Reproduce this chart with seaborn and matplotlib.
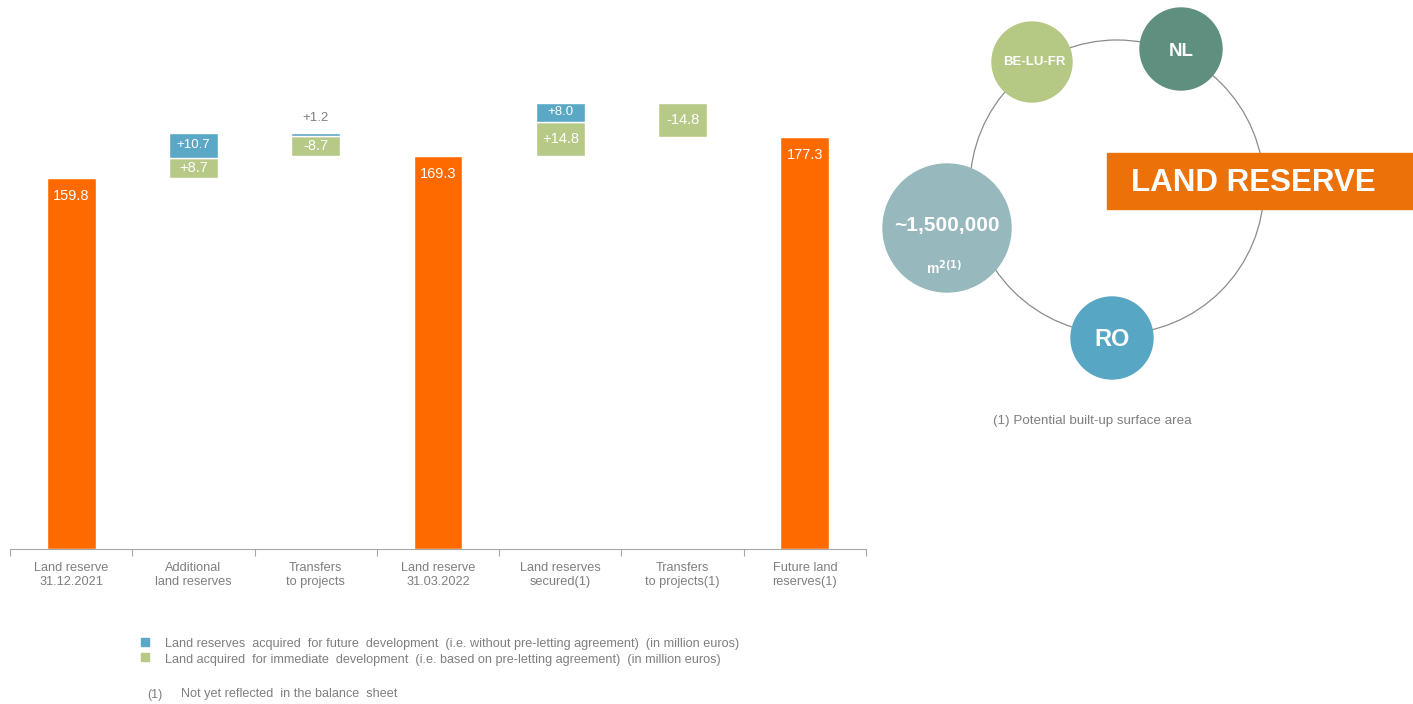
import matplotlib
matplotlib.use("Agg")
import matplotlib.pyplot as plt
from matplotlib.patches import Circle, Rectangle
import seaborn as sns
import pandas as pd

# data
categories = ["Land reserve\n31.12.2021", "Additional\nland reserves", "Transfers\nto projects",
              "Land reserve\n31.03.2022", "Land reserves\nsecured(1)", "Transfers\nto projects(1)",
              "Future land\nreserves(1)"]
totals = [159.8, None, None, 169.3, None, None, 177.3]
future_dev = [0, 10.7, -1.2, 0, 8.0, 0, 0]        # blue
immediate_dev = [0, 8.7, -8.7, 0, 14.8, -14.8, 0]  # green
future_labels = ["", "+10.7", "+1.2", "", "+8.0", "", ""]
immediate_labels = ["", "+8.7", "-8.7", "", "+14.8", "-14.8", ""]

ORANGE = "#FF6A00"
BLUE = "#5AA7C6"
GREEN = "#B7C986"
GREY = "#7F7F7F"

sns.set_theme(style="white")
plt.rcParams["font.family"] = ["Liberation Sans", "DejaVu Sans"]

fig = plt.figure(figsize=(14.13, 7.04), dpi=100)
ax = fig.add_axes([10 / 1413, 1 - 549 / 704, 856 / 1413, 549 / 704])

# totals (orange)
df_tot = pd.DataFrame({"cat": categories, "val": totals}).dropna()
sns.barplot(data=df_tot, x="cat", y="val", order=categories, color=ORANGE,
            width=0.4, saturation=1, ax=ax)

# floating segments
level = 0
for i, cat in enumerate(categories):
    if totals[i] is not None:
        level = totals[i]
        ax.annotate(f"{totals[i]:.1f}", (i, totals[i]), xytext=(0, -18),
                    textcoords="offset pixels", ha="center", va="center",
                    color="white", fontsize=10.5)
        continue
    g = immediate_dev[i]
    b = future_dev[i]
    if g >= 0:
        g_bottom = level
        b_bottom = level + g
    else:
        b_bottom = level
        g_bottom = level + b
    if g != 0:
        ax.bar(i, g, bottom=g_bottom, width=0.4, color=GREEN)
        ax.text(i, g_bottom + g / 2, immediate_labels[i], ha="center", va="center",
                color="white", fontsize=10.5)
    if b != 0:
        ax.bar(i, b, bottom=b_bottom, width=0.4, color=BLUE)
        if abs(b) < 3:
            ax.annotate(future_labels[i], (i, max(b_bottom, b_bottom + b)), xytext=(0, 15),
                        textcoords="offset pixels", ha="center", va="center",
                        color=GREY, fontsize=9.5)
        else:
            ax.text(i, b_bottom + b / 2, future_labels[i], ha="center", va="center",
                    color="white", fontsize=9.5)
    level = level + g + b

ax.set_xlim(-0.5, len(categories) - 0.5)
ax.set_ylim(0, 236.5)
ax.set_xlabel("")
ax.set_ylabel("")
ax.set_yticks([])
ax.set_xticks(range(len(categories)))
ax.set_xticklabels(categories, color=GREY, fontsize=9.2)
ax.set_xticks([i - 0.5 for i in range(len(categories) + 1)], minor=True)
ax.tick_params(axis="x", which="major", length=0, pad=9.5)
ax.tick_params(axis="x", which="minor", length=5, color="#A6A6A6", width=0.8, bottom=True)
sns.despine(ax=ax, left=True, top=True, right=True)
ax.spines["bottom"].set_color("#A6A6A6")
ax.spines["bottom"].set_linewidth(0.8)

# overlay in pixel coordinates for the diagram and notes
ov = fig.add_axes([0, 0, 1, 1])
ov.set_xlim(0, 1413)
ov.set_ylim(704, 0)
ov.axis("off")
ov.patch.set_visible(False)

# legend
ov.add_patch(Rectangle((141, 638), 8, 8, color=BLUE))
ov.add_patch(Rectangle((141, 653), 8, 8, color=GREEN))
ov.text(165, 644, "Land reserves  acquired  for future  development  (i.e. without pre-letting agreement)  (in million euros)",
        color=GREY, fontsize=9.1, va="center")
ov.text(165, 660, "Land acquired  for immediate  development  (i.e. based on pre-letting agreement)  (in million euros)",
        color=GREY, fontsize=9.1, va="center")
ov.text(147, 695, "(1)", color=GREY, fontsize=9, va="center")
ov.text(181, 694, "Not yet reflected  in the balance  sheet", color=GREY, fontsize=9.1, va="center")

# circle diagram
ov.add_patch(Circle((1117, 187), 147, fill=False, edgecolor="#8C8C8C", lw=0.9, zorder=1))
ov.add_patch(Rectangle((1107, 153), 306, 56, color="#EC7109", zorder=2))
ov.text(1253, 183, "LAND RESERVE", color="white", fontsize=22.5, fontweight="bold",
        ha="center", va="center", zorder=3)

bubbles = [
    ((1032, 62), 40, "#B5C884", "BE-LU-FR", 9.5, 0),
    ((1181, 49), 41, "#5F8F7E", "NL", 13.5, 3),
    ((1112, 338), 41, "#57A6C4", "RO", 17, 1),
    ((947, 228), 64, "#97B9BD", "~1,500,000", 15, -2),
]
for (cx, cy), r, col, label, fs, dy in bubbles:
    ov.add_patch(Circle((cx, cy), r, color=col, zorder=2))
    ov.text(cx + (2 if label == "BE-LU-FR" else 0), cy + dy, label, color="white", fontsize=fs,
            fontweight="bold", ha="center", va="center", zorder=3)
ov.text(944, 268, r"m$^{\mathbf{2(1)}}$", color="white", fontsize=10, fontweight="bold",
        ha="center", va="center", zorder=3)

ov.text(993, 421, "(1) Potential built-up surface area", color=GREY, fontsize=9.6, va="center")

fig.savefig("out.png", dpi=100)
